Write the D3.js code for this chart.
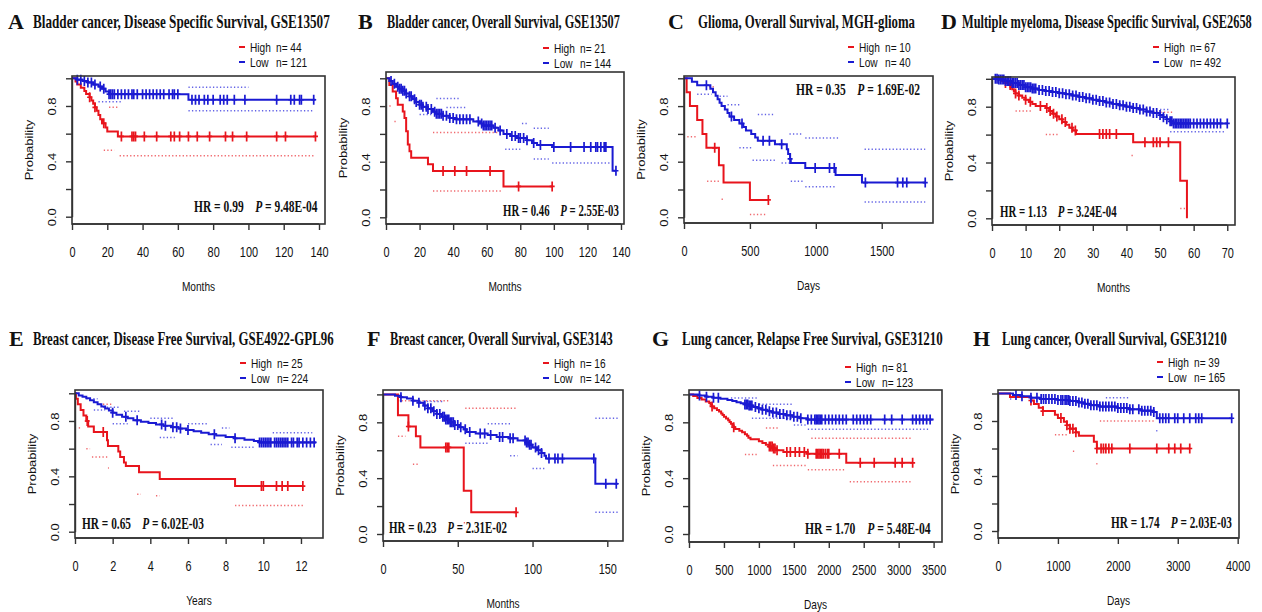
<!DOCTYPE html>
<html><head><meta charset="utf-8">
<script src="https://cdn.jsdelivr.net/npm/d3@7"></script>
<style>body{margin:0;background:#fff}</style>
</head><body>
<svg id="c" width="1262" height="612"></svg>
<script>
// ---------------- DATA ----------------
const panelLetters = ["A","B","C","D","E","F","G","H"];
const panelTitles = [
  "Bladder cancer, Disease Specific Survival, GSE13507",
  "Bladder cancer, Overall Survival, GSE13507",
  "Glioma, Overall Survival, MGH-glioma",
  "Multiple myeloma, Disease Specific Survival, GSE2658",
  "Breast cancer, Disease Free Survival, GSE4922-GPL96",
  "Breast cancer, Overall Survival, GSE3143",
  "Lung cancer, Relapse Free Survival, GSE31210",
  "Lung cancer, Overall Survival, GSE31210"
];
const xAxisLabels = ["Months","Months","Days","Months","Years","Months","Days","Days"];
const xTickValues = [
  [0,20,40,60,80,100,120,140],
  [0,20,40,60,80,100,120,140],
  [0,500,1000,1500],
  [0,10,20,30,40,50,60,70],
  [0,2,4,6,8,10,12],
  [0,50,100,150],
  [0,500,1000,1500,2000,2500,3000,3500],
  [0,1000,2000,3000,4000]
];
const yTickValues = [0,0.2,0.4,0.6,0.8,1.0];
const yTickLabelled = [0,0.4,0.8];
const groupNames = ["High","Low"];
const nHigh = [44,21,10,67,25,16,81,39];
const nLow = [121,144,40,492,224,142,123,165];
const hrValues = ["0.99","0.46","0.35","1.13","0.65","0.23","1.70","1.74"];
const pValues = ["9.48E-04","2.55E-03","1.69E-02","3.24E-04","6.02E-03","2.31E-02","5.48E-04","2.03E-03"];

// Kaplan-Meier steps [time, survival]; censor times; CI dotted segments [t0, t1, survival]
const highSteps_A = [[0,1],[2,0.977],[3,0.955],[5,0.932],[7,0.909],[8,0.886],[10,0.863],[11,0.84],[12,0.817],[13,0.79],[14,0.765],[15,0.735],[16,0.705],[17,0.675],[19,0.645],[20,0.615],[26,0.58],[138,0.58]];
const highCens_A = [10,13,18,28,34,35,36,41,48,56,58,61,66,71,78,87,91,99,116,121,138];
const highCI_A = [[21,26,0.79],[18,24,0.48],[27,137,0.44]];
const lowSteps_A = [[0,1],[3,0.99],[6,0.98],[9,0.97],[12,0.955],[15,0.94],[17,0.925],[19,0.905],[21,0.885],[66,0.845],[138,0.845]];
const lowCens_A = [3,5,7,9,11,13,16,18,21,22,23,24,26,28,30,32,34,35,37,40,42,44,46,48,50,52,55,57,58,60,68,70,72,75,77,80,84,86,88,92,98,116,124,126,129,130,137];
const lowCI_A = [[15,28,0.83],[66,100,0.935],[66,137,0.765]];

const highSteps_B = [[0,1],[2,0.952],[4,0.905],[6,0.857],[7,0.81],[10,0.762],[11,0.714],[12,0.619],[13,0.524],[14,0.476],[15,0.429],[25,0.381],[28,0.333],[70,0.222],[99,0.222]];
const highCens_B = [34,41,48,62,79,99];
const highCI_B = [[28,69,0.61],[28,69,0.19],[2,3,0.8],[5,6,0.69]];
const lowSteps_B = [[0,1],[2,0.98],[4,0.96],[6,0.94],[8,0.925],[10,0.91],[12,0.89],[14,0.87],[16,0.85],[18,0.83],[20,0.81],[22,0.795],[25,0.78],[28,0.76],[30,0.745],[34,0.73],[38,0.715],[42,0.705],[52,0.69],[56,0.675],[58,0.66],[64,0.645],[67,0.625],[70,0.6],[74,0.585],[78,0.57],[84,0.555],[87,0.535],[90,0.52],[99,0.505],[135,0.335],[137,0.335]];
const lowCens_B = [3,5,7,8,9,10,11,12,14,15,17,18,20,21,22,24,25,27,29,30,31,32,33,34,36,38,40,42,44,46,48,50,55,57,58,59,60,61,62,63,65,68,72,75,77,79,80,82,84,88,92,100,110,118,122,125,126,128,130,131,137];
const lowCI_B = [[30,44,0.855],[36,48,0.79],[81,85,0.675],[88,97,0.64],[20,28,0.74],[71,80,0.49],[88,97,0.42],[99,134,0.39]];

const highSteps_C = [[0,1],[20,0.9],[45,0.8],[100,0.7],[140,0.6],[170,0.5],[265,0.375],[300,0.25],[500,0.125],[640,0.125]];
const highCens_C = [233,640];
const highCI_C = [[25,95,0.58],[175,270,0.26],[285,310,0.13],[500,630,0.02],[190,240,0.94]];
const lowSteps_C = [[0,1],[60,0.975],[100,0.95],[200,0.925],[220,0.9],[240,0.875],[255,0.85],[270,0.825],[285,0.8],[310,0.775],[330,0.75],[345,0.725],[380,0.7],[420,0.675],[450,0.65],[470,0.625],[510,0.6],[540,0.575],[560,0.55],[690,0.525],[780,0.49],[790,0.455],[805,0.42],[810,0.39],[920,0.355],[1150,0.305],[1350,0.25],[1830,0.25]];
const lowCens_C = [170,360,440,600,648,741,805,995,1104,1140,1376,1620,1660,1690,1830];
const lowCI_C = [[270,330,0.87],[330,430,0.81],[560,680,0.74],[800,900,0.6],[920,1170,0.57],[1370,1830,0.49],[100,210,0.885],[420,520,0.5],[520,700,0.41],[740,800,0.39],[810,900,0.26],[920,1150,0.22],[1370,1830,0.11]];

const highSteps_D = [[0,1],[3,0.985],[4,0.97],[5,0.955],[5.5,0.94],[6,0.925],[6.5,0.91],[7,0.895],[8,0.88],[9,0.865],[10,0.85],[11,0.835],[12,0.82],[13,0.805],[16,0.79],[17,0.77],[18,0.75],[19,0.73],[20,0.71],[21,0.69],[22,0.67],[23,0.65],[24,0.63],[25,0.605],[42,0.545],[56,0.27],[58,0]];
const highCens_D = [4,5.4,7,8,10,11.4,14.4,16.3,17.3,18.3,19.3,20.8,21.8,23.8,24.8,32,33,34,35,37,45.5,48,49,50,52.5];
const highCI_D = [[7,12,0.77],[16,20,0.6],[48,54,0.76],[41.5,42.5,0.45],[56,58,0.07]];
const lowSteps_D = [[0,1],[2,0.995],[4,0.985],[6,0.97],[8,0.955],[10,0.94],[12,0.93],[14,0.92],[16,0.912],[18,0.905],[20,0.897],[22,0.89],[24,0.88],[26,0.87],[28,0.86],[30,0.85],[32,0.84],[34,0.83],[36,0.82],[38,0.81],[40,0.8],[42,0.79],[44,0.78],[46,0.765],[48,0.755],[50,0.74],[51,0.725],[52,0.71],[53,0.695],[54,0.68],[70,0.68]];
const lowCens_D = [1,1.5,2,2.5,3,3.5,4,4.5,5,5.5,6,6.5,7,7.5,8,8.5,9,9.5,10,10.5,11,11.5,12,12.5,13,14,15,16,17,18,19,20,21,22,23,24,25,26,27,28,29,30,31,32,33,34,35,36,37,38,39,40,41,42,43,44,45,46,47,48,49,50,51,52,53,53.5,54,54.5,55,55.5,56,56.5,57,57.5,58,58.5,59,60,61,62,63,64,65,66,67,68,70];
const lowCI_D = [[53,69,0.62],[50,53,0.78]];

const highSteps_E = [[0,1],[0.05,0.96],[0.15,0.92],[0.3,0.88],[0.45,0.84],[0.6,0.8],[0.7,0.76],[1.0,0.72],[1.7,0.66],[1.75,0.62],[2.3,0.58],[2.4,0.54],[2.6,0.5],[2.7,0.475],[3.4,0.43],[4.5,0.38],[8.5,0.33],[12.1,0.33]];
const highCens_E = [0.65,1.5,9.9,10.0,10.7,11.0,11.3,12.1];
const highCI_E = [[0.2,0.35,0.75],[0.6,0.8,0.6],[0.9,1.8,0.54],[1.75,1.8,0.46],[3.3,3.5,0.27],[4.3,4.5,0.26],[8.5,12.1,0.19],[1.3,2.0,0.92]];
const lowSteps_E = [[0,1],[0.2,0.985],[0.4,0.975],[0.6,0.965],[0.8,0.95],[1.0,0.935],[1.2,0.92],[1.4,0.905],[1.6,0.89],[1.8,0.875],[2.0,0.86],[2.2,0.845],[2.5,0.83],[2.8,0.82],[3.1,0.805],[3.5,0.795],[3.9,0.785],[4.3,0.775],[4.7,0.765],[5.1,0.755],[5.5,0.745],[5.9,0.735],[6.3,0.725],[6.7,0.715],[7.1,0.705],[7.5,0.695],[8.0,0.685],[8.5,0.675],[9.0,0.665],[9.5,0.655],[9.8,0.645],[12.8,0.645]];
const lowCens_E = [2.0,2.7,3.3,4.6,4.8,5.2,5.4,5.6,6.0,7.4,8.5,9.8,9.9,10.0,10.1,10.2,10.3,10.4,10.6,10.7,10.8,10.9,11.0,11.1,11.2,11.3,11.5,11.6,11.8,11.9,12.1,12.3,12.5,12.7];
const lowCI_E = [[0.6,1.2,0.96],[1.5,2.4,0.9],[2.6,3.5,0.87],[4.0,5.3,0.82],[6.0,7.0,0.78],[7.8,8.2,0.75],[10.5,12.6,0.715],[1.0,1.6,0.88],[2.0,2.8,0.78],[4.5,5.3,0.68],[7.2,7.8,0.63],[8.3,9.6,0.61]];

const highSteps_F = [[0,1],[10,0.85],[17,0.77],[22,0.7],[25,0.62],[54,0.31],[59,0.155],[89,0.155]];
const highCens_F = [17,42,43,44,89];
const highCI_F = [[10,45,0.955],[55,89,0.9],[10,15,0.7],[20,24,0.5],[54,58,0.08]];
const lowSteps_F = [[0,1],[8,0.99],[12,0.98],[16,0.97],[20,0.955],[24,0.94],[27,0.92],[30,0.9],[33,0.88],[36,0.86],[39,0.84],[42,0.82],[45,0.8],[48,0.78],[51,0.765],[54,0.75],[56,0.73],[62,0.72],[70,0.71],[76,0.695],[84,0.685],[90,0.67],[96,0.655],[98,0.64],[100,0.62],[103,0.6],[106,0.58],[108,0.56],[109,0.54],[142,0.36],[157,0.36]];
const lowCens_F = [12,20,24,28,30,32,34,36,38,40,41,42,43,44,45,46,47,48,50,52,55,58,65,68,72,78,80,85,87,95,96,97,98,99,102,104,106,111,115,117,120,141,149,156];
const lowCI_F = [[20,40,0.95],[70,85,0.79],[142,157,0.83],[55,70,0.65],[85,90,0.56],[100,108,0.47],[142,157,0.155]];

const highSteps_G = [[0,1],[60,0.988],[120,0.975],[180,0.963],[240,0.95],[290,0.938],[310,0.926],[330,0.914],[360,0.901],[400,0.889],[430,0.877],[460,0.864],[480,0.852],[500,0.84],[530,0.827],[560,0.815],[580,0.802],[600,0.79],[620,0.778],[640,0.765],[660,0.753],[720,0.74],[760,0.728],[800,0.715],[830,0.703],[850,0.69],[880,0.678],[1000,0.665],[1050,0.652],[1100,0.639],[1150,0.626],[1200,0.613],[1250,0.6],[1350,0.588],[1700,0.574],[2250,0.51],[3200,0.51]];
const highCens_G = [330,640,1150,1170,1190,1210,1230,1260,1400,1450,1520,1580,1650,1700,1820,1840,1860,1880,1900,1920,1950,1980,2000,2150,2450,2650,2950,3050,3200];
const highCI_G = [[1100,1300,0.76],[1750,3200,0.685],[800,1000,0.57],[1200,1700,0.49],[1700,2250,0.46],[2300,3200,0.375]];
const lowSteps_G = [[0,1],[150,0.992],[250,0.984],[350,0.976],[450,0.968],[550,0.96],[620,0.952],[680,0.944],[740,0.936],[800,0.928],[860,0.92],[920,0.91],[980,0.9],[1050,0.89],[1120,0.88],[1200,0.87],[1280,0.86],[1380,0.85],[1480,0.84],[1580,0.83],[1700,0.82],[3500,0.82]];
const lowCens_G = [150,250,350,420,800,820,840,860,880,900,950,1000,1050,1100,1150,1200,1250,1300,1350,1400,1450,1500,1550,1600,1700,1750,1800,1820,1840,1860,1880,1900,1950,2000,2050,2100,2150,2200,2250,2350,2400,2450,2500,2550,2600,2800,2900,3050,3200,3250,3300,3350,3400,3450];
const lowCI_G = [[600,1000,0.975],[1000,1500,0.93],[900,1500,0.83],[1500,1700,0.78],[1700,3450,0.75]];

const highSteps_H = [[0,1],[200,0.974],[550,0.949],[600,0.923],[680,0.897],[750,0.872],[950,0.846],[1000,0.821],[1100,0.795],[1150,0.769],[1200,0.744],[1300,0.718],[1350,0.692],[1600,0.65],[1650,0.6],[3200,0.6]];
const highCens_H = [550,750,1050,1150,1200,1250,1300,1650,1720,1760,1800,1850,1900,2200,2650,2850,2950,3050,3200];
const highCI_H = [[1700,2600,0.8],[950,1150,0.7],[1250,1300,0.58],[1640,1660,0.49]];
const lowSteps_H = [[0,1],[250,0.99],[400,0.98],[550,0.97],[700,0.96],[1000,0.953],[1200,0.945],[1350,0.935],[1450,0.925],[1550,0.915],[1700,0.905],[2000,0.895],[2200,0.885],[2400,0.875],[2600,0.865],[2650,0.82],[3900,0.82]];
const lowCens_H = [300,400,550,650,720,760,800,850,900,950,1000,1050,1080,1120,1150,1180,1200,1250,1300,1350,1400,1450,1500,1550,1600,1650,1700,1750,1800,1850,1900,1950,2000,2050,2100,2150,2200,2250,2350,2400,2450,2500,2550,2600,2700,2750,2800,2850,2950,3000,3100,3200,3300,3350,3400,3900];
const lowCI_H = [[1800,2200,0.97],[2640,2660,0.73],[200,250,0.96]];

const highStepsAll = [highSteps_A,highSteps_B,highSteps_C,highSteps_D,highSteps_E,highSteps_F,highSteps_G,highSteps_H];
const highCensAll = [highCens_A,highCens_B,highCens_C,highCens_D,highCens_E,highCens_F,highCens_G,highCens_H];
const highCIAll = [highCI_A,highCI_B,highCI_C,highCI_D,highCI_E,highCI_F,highCI_G,highCI_H];
const lowStepsAll = [lowSteps_A,lowSteps_B,lowSteps_C,lowSteps_D,lowSteps_E,lowSteps_F,lowSteps_G,lowSteps_H];
const lowCensAll = [lowCens_A,lowCens_B,lowCens_C,lowCens_D,lowCens_E,lowCens_F,lowCens_G,lowCens_H];
const lowCIAll = [lowCI_A,lowCI_B,lowCI_C,lowCI_D,lowCI_E,lowCI_F,lowCI_G,lowCI_H];

// ---------------- LAYOUT (pixels) ----------------
const layout = [
  {box:[72,76,325,224],  y0:216.7,y1:78.3, xMax:143.4, letterX:8,   titleX:33,  titleW:297, titleY:28,  leg:[239,47,62],   hr:[194,212,124]},
  {box:[386,72,624,224], y0:217.3,y1:78.3, xMax:141.8, letterX:358, titleX:387, titleW:233, titleY:28,  leg:[543,48,63],   hr:[503,216,116]},
  {box:[684,76,933,223], y0:217.3,y1:78.3, xMax:1889,  letterX:668, titleX:698, titleW:217, titleY:28,  leg:[848,47,62],   hr:[796,95,124]},
  {box:[992,77,1235,225],y0:218.3,y1:78.8, xMax:72.3,  letterX:941, titleX:962, titleW:290, titleY:28,  leg:[1153,47,62],  hr:[1000,217,117]},
  {box:[75,390,323,538], y0:531.7,y1:393.3,xMax:13.17, letterX:9,   titleX:33,  titleW:301, titleY:345, leg:[240,363,378],  hr:[82,529,122]},
  {box:[383,390,623,541],y0:534,  y1:394.4,xMax:160.5, letterX:367, titleX:390, titleW:223, titleY:345, leg:[543,363,378],  hr:[389,533,118]},
  {box:[689,390,942,542],y0:534,  y1:394.4,xMax:3620,  letterX:652, titleX:682, titleW:261, titleY:345, leg:[845,367,382],  hr:[805,534,126]},
  {box:[998,390,1239,538],y0:531,y1:393.5,xMax:4022,  letterX:973, titleX:1002,titleW:225, titleY:345, leg:[1157,362,377], hr:[1111,528,121]}
];

const RED = "#e8141c", BLUE = "#1a1ad2", RED_CI = "#f0696e", BLUE_CI = "#6464e6";
const SANS = "'Liberation Sans', Arial, sans-serif";
const SERIF = "'Liberation Serif', 'Times New Roman', serif";
const SQ = 0.78; // horizontal squeeze of sans text
const AX = "#333";

const svg = d3.select("#c");

function fitText(sel, x, y, w) {
  const bw = sel.node().getBBox().width;
  sel.attr("transform", `translate(${x},${y}) scale(${w / bw},1)`);
}
function stepValue(steps, t) {
  const i = Math.max(0, d3.bisector(d => d[0]).right(steps, t) - 1);
  return steps[i][1];
}

panelLetters.forEach((letter, i) => {
  const L = layout[i];
  const [bl, bt, br, bb] = L.box;
  const x = d3.scaleLinear().domain([0, L.xMax]).range([bl, br]);
  const y = d3.scaleLinear().domain([0, 1]).range([L.y0, L.y1]);
  const g = svg.append("g");

  // confidence-interval dotted segments
  const ciGroups = [[highCIAll[i], RED_CI], [lowCIAll[i], BLUE_CI]];
  ciGroups.forEach(([segs, col]) => {
    g.selectAll(null).data(segs).join("line")
      .attr("x1", d => x(d[0])).attr("x2", d => x(d[1]))
      .attr("y1", d => y(d[2])).attr("y2", d => y(d[2]))
      .attr("stroke", col).attr("stroke-width", 1.5)
      .attr("stroke-dasharray", "1.3,2.2");
  });

  // curves
  const line = d3.line().x(d => x(d[0])).y(d => y(d[1])).curve(d3.curveStepAfter);
  const series = [[highStepsAll[i], highCensAll[i], RED], [lowStepsAll[i], lowCensAll[i], BLUE]];
  series.forEach(([steps, cens, col]) => {
    g.append("path").attr("d", line(steps)).attr("fill", "none")
      .attr("stroke", col).attr("stroke-width", 2);
    g.selectAll(null).data(cens).join("path")
      .attr("d", t => {
        const cx = x(t), cy = y(stepValue(steps, t));
        return `M${cx},${cy - 5}V${cy + 5}M${cx - 2.5},${cy}H${cx + 2.5}`;
      })
      .attr("stroke", col).attr("stroke-width", 1.7).attr("fill", "none");
  });

  // box
  g.append("rect").attr("x", bl).attr("y", bt).attr("width", br - bl).attr("height", bb - bt)
    .attr("fill", "none").attr("stroke", AX).attr("stroke-width", 1.6);

  // x axis
  const xa = g.append("g").attr("transform", `translate(0,${bb})`)
    .call(d3.axisBottom(x).tickValues(xTickValues[i]).tickSize(6).tickSizeOuter(0).tickFormat(d3.format("d")));
  xa.select(".domain").remove();
  xa.append("line").attr("x1", x(xTickValues[i][0])).attr("x2", x(xTickValues[i][xTickValues[i].length - 1]))
    .attr("stroke", AX).attr("stroke-width", 1.4);
  xa.selectAll(".tick line").attr("stroke", AX).attr("stroke-width", 1.4);
  xa.selectAll(".tick text").attr("y", 33).attr("dy", null)
    .attr("font-family", SANS).attr("font-size", 14).attr("fill", "#111")
    .attr("transform", `scale(${SQ},1)`);

  // y axis
  const ya = g.append("g").attr("transform", `translate(${bl},0)`)
    .call(d3.axisLeft(y).tickValues(yTickValues).tickSize(6).tickSizeOuter(0)
      .tickFormat(d => yTickLabelled.some(v => Math.abs(v - d) < 1e-9) ? d.toFixed(1) : ""));
  ya.select(".domain").attr("stroke", AX).attr("stroke-width", 1.4);
  ya.selectAll(".tick line").attr("stroke", AX).attr("stroke-width", 1.4);
  ya.selectAll(".tick text").attr("x", 0).attr("dy", null)
    .attr("text-anchor", "middle").attr("dominant-baseline", "central")
    .attr("font-family", SANS).attr("font-size", 13).attr("fill", "#111")
    .attr("transform", `translate(-20,0) rotate(-90) scale(1,${SQ})`);

  // axis titles
  g.append("text").text(xAxisLabels[i])
    .attr("font-family", SANS).attr("font-size", 13).attr("text-anchor", "middle").attr("fill", "#111")
    .attr("transform", `translate(${(bl + br) / 2},${bb + 67}) scale(${SQ},1)`);
  g.append("text").text("Probability")
    .attr("font-family", SANS).attr("font-size", 13).attr("text-anchor", "middle")
    .attr("dominant-baseline", "central").attr("fill", "#111")
    .attr("transform", `translate(${bl - 43},${(bt + bb) / 2}) rotate(-90) scale(1,${SQ})`);

  // title
  svg.append("text").text(letter).attr("x", L.letterX).attr("y", L.titleY + 1)
    .attr("font-family", SERIF).attr("font-weight", "bold").attr("font-size", 22).attr("fill", "#111");
  const tt = svg.append("text").text(panelTitles[i])
    .attr("font-family", SERIF).attr("font-weight", "bold").attr("font-size", 18).attr("fill", "#111");
  fitText(tt, L.titleX, L.titleY, L.titleW);

  // legend
  const [lx, ly1, ly2] = L.leg;
  [[ly1, RED, groupNames[0], nHigh[i]], [ly2, BLUE, groupNames[1], nLow[i]]].forEach(([ly, col, name, n]) => {
    g.append("line").attr("x1", lx).attr("x2", lx + 6).attr("y1", ly).attr("y2", ly)
      .attr("stroke", col).attr("stroke-width", 2);
    g.append("text").text(name).attr("font-family", SANS).attr("font-size", 13)
      .attr("dominant-baseline", "central").attr("fill", "#111")
      .attr("transform", `translate(${lx + 11},${ly}) scale(${SQ},1)`);
    g.append("text").text("n= " + n).attr("font-family", SANS).attr("font-size", 13)
      .attr("dominant-baseline", "central").attr("fill", "#111")
      .attr("transform", `translate(${lx + 37},${ly}) scale(${SQ},1)`);
  });

  // HR / P annotation
  const [hx, hy, hw] = L.hr;
  const ht = g.append("text").attr("font-family", SERIF).attr("font-weight", "bold")
    .attr("font-size", 17).attr("fill", "#111").style("white-space", "pre");
  ht.append("tspan").text("HR = " + hrValues[i] + "    ");
  ht.append("tspan").attr("font-style", "italic").text("P");
  ht.append("tspan").text(" = " + pValues[i]);
  fitText(ht, hx, hy, hw);
});
</script>
</body></html>
